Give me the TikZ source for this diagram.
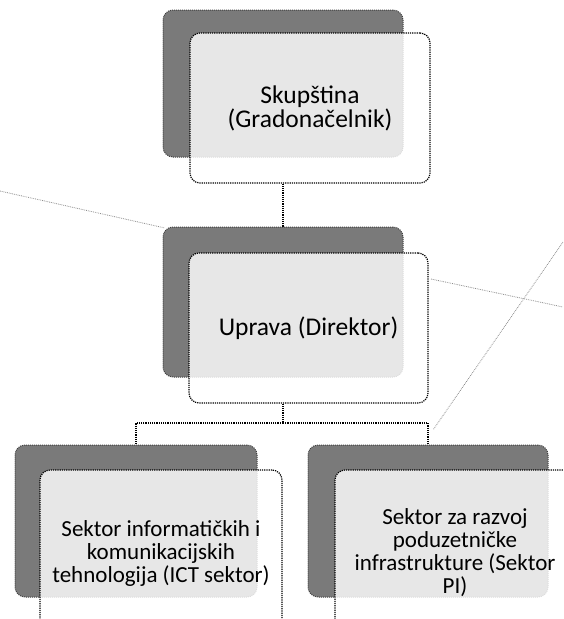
\documentclass[tikz,border=0pt]{standalone}
\usepackage{fontspec}
\setmainfont{Carlito}
\begin{document}
\begin{tikzpicture}[x=1pt,y=-1pt,
  backbox/.style={fill=black!52, draw=black!75, densely dotted, line width=1pt,
    rounded corners=10pt, minimum width=240pt, minimum height=150pt, inner sep=0pt},
  frontbox/.style={fill=white, fill opacity=0.82, text opacity=1, draw=black, densely dotted,
    line width=1.2pt, rounded corners=10pt, minimum width=240pt, minimum height=150pt,
    inner sep=0pt, align=center, font=\fontsize{25.5}{24}\selectfont},
  smalltext/.style={font=\fontsize{23}{23}\selectfont},
  link/.style={draw=black, densely dotted, line width=1.2pt},
  faint/.style={draw=black!45, densely dotted, line width=0.8pt}]
\path[use as bounding box] (0,0) rectangle (563,619);
\clip (0,0) rectangle (563,619);
% faint background lines of the scanned page
\coordinate (fa1) at (0,191);
\coordinate (fa2) at (165,228);
\coordinate (fb1) at (431,279);
\coordinate (fb2) at (563,307);
\coordinate (fc1) at (563,242);
\coordinate (fc2) at (433,430);
\draw[faint] (fa1) -- (fa2);
\draw[faint] (fb1) -- (fb2);
\draw[faint] (fc1) -- (fc2);
% back boxes
\node[backbox, minimum height=147pt] (topback) at (283,83.5) {};
\node[backbox] (midback) at (283,302) {};
\node[backbox, minimum width=242pt, minimum height=152pt] (leftback) at (136,521) {};
\node[backbox, minimum height=152pt] (rightback) at (428,521) {};
% front boxes
\node[frontbox] (topfront) at (310,108) {Skupština\\(Gradonačelnik)};
\node[frontbox, minimum width=239pt] (midfront) at (308.5,328) {Uprava (Direktor)};
\node[frontbox, smalltext, minimum width=242pt, minimum height=166pt] (leftfront) at (161,553)
  {Sektor informatičkih i\\komunikacijskih\\tehnologija (ICT sektor)};
\node[frontbox, smalltext, minimum height=166pt] (rightfront) at (455,553)
  {Sektor za razvoj\\poduzetničke\\infrastrukture (Sektor\\PI)};
% connectors
\draw[link] (topback.center |- topfront.south) -- (midback.north);
\coordinate (split) at (283,423);
\draw[link] (midback.center |- midfront.south) -- (split);
\draw[link] (split) -| (leftback.north);
\draw[link] (split) -| (rightback.north);
\end{tikzpicture}
\end{document}
